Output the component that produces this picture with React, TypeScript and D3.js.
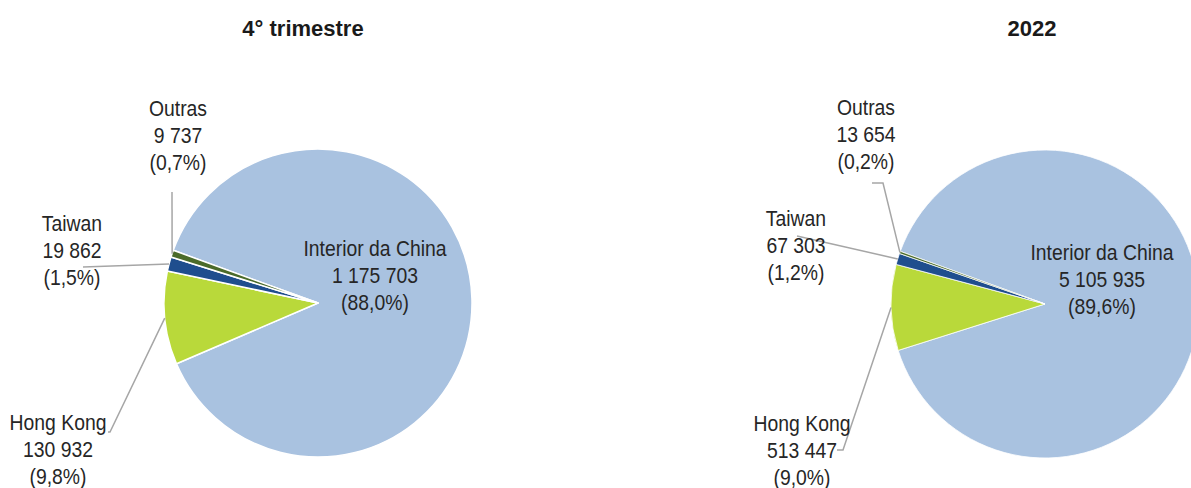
import React from "react";
import * as d3 from "d3";

const categories = ["Interior da China", "Hong Kong", "Taiwan", "Outras"];
const q4Values = [1175703, 130932, 19862, 9737];
const yearValues = [5105935, 513447, 67303, 13654];
const panelTitles = ["4° trimestre", "2022"];
const colors = ["#A9C2E0", "#B9D93A", "#1F4E8E", "#4B6B2A"];

const W = 1191;
const H = 488;
const R = 154;
const START = (-70 * Math.PI) / 180;

const locale = d3.formatLocale({
  decimal: ",",
  thousands: " ",
  grouping: [3],
  currency: ["", ""],
});
const fmtNum = locale.format(",d");
const fmtPct = locale.format(".1f");

type LabelLayout = {
  x: number;
  y: number;
  leader?: [number, number][];
  noLeader?: boolean;
};

type Panel = {
  title: string;
  titleX: number;
  values: number[];
  cx: number;
  cy: number;
  stroke: number;
  labels: LabelLayout[];
};

const panels: Panel[] = [
  {
    title: panelTitles[0],
    titleX: 303,
    values: q4Values,
    cx: 318,
    cy: 303,
    stroke: 1.5,
    labels: [
      { x: 375, y: 256, noLeader: true },
      { x: 58, y: 430, leader: [[108, 432], [110, 432]] },
      { x: 72, y: 231, leader: [[83, 267]] },
      { x: 178, y: 116, leader: [[172, 192]] },
    ],
  },
  {
    title: panelTitles[1],
    titleX: 1032,
    values: yearValues,
    cx: 1045,
    cy: 304,
    stroke: 0.8,
    labels: [
      { x: 1102, y: 260, noLeader: true },
      { x: 802, y: 431, leader: [[837, 450], [843, 450]] },
      { x: 796, y: 226, leader: [[797, 236]] },
      { x: 866, y: 115, leader: [[872, 183], [883, 183]] },
    ],
  },
];

const LINE = 27;
const FONT = "'Liberation Sans', Arial, sans-serif";

function PiePanel({ p }: { p: Panel }) {
  const total = d3.sum(p.values);
  const pie = d3
    .pie<number>()
    .sort(null)
    .value((d) => d)
    .startAngle(START)
    .endAngle(START + 2 * Math.PI);
  const arcs = pie(p.values);
  const arc = d3.arc<d3.PieArcDatum<number>>().innerRadius(0).outerRadius(R);

  return (
    <g>
      <text
        x={p.titleX}
        y={36}
        textAnchor="middle"
        fontFamily={FONT}
        fontWeight="bold"
        fontSize={22}
        fill="#1a1a1a"
      >
        {p.title}
      </text>
      <g transform={`translate(${p.cx},${p.cy})`}>
        {arcs.map((a, i) => (
          <path
            key={i}
            d={arc(a) || ""}
            fill={colors[i]}
            stroke="#fff"
            strokeWidth={p.stroke}
            strokeLinejoin="round"
          />
        ))}
      </g>
      {arcs.map((a, i) => {
        const lab = p.labels[i];
        if (lab.noLeader || !lab.leader) return null;
        const mid = (a.startAngle + a.endAngle) / 2;
        const ex = p.cx + R * Math.sin(mid);
        const ey = p.cy - R * Math.cos(mid);
        const pts = [...lab.leader, [ex, ey]] as [number, number][];
        const d = d3.line()(pts) || "";
        return (
          <path key={"l" + i} d={d} fill="none" stroke="#A6A6A6" strokeWidth={1.5} />
        );
      })}
      {arcs.map((a, i) => {
        const lab = p.labels[i];
        const lines = [
          categories[i],
          fmtNum(p.values[i]),
          `(${fmtPct((p.values[i] / total) * 100)}%)`,
        ];
        return (
          <g key={"t" + i} transform={`translate(${lab.x},0) scale(0.88,1)`}>
            {lines.map((t, j) => (
              <text
                key={j}
                x={0}
                y={lab.y + j * LINE}
                textAnchor="middle"
                fontFamily={FONT}
                fontSize={22}
                fill="#262626"
              >
                {t}
              </text>
            ))}
          </g>
        );
      })}
    </g>
  );
}

export default function App() {
  return (
    <svg
      width={W}
      height={H}
      style={{ position: "absolute", left: 0, top: 0, background: "#fff" }}
    >
      <rect width={W} height={H} fill="#fff" />
      {panels.map((p, i) => (
        <PiePanel key={i} p={p} />
      ))}
    </svg>
  );
}
